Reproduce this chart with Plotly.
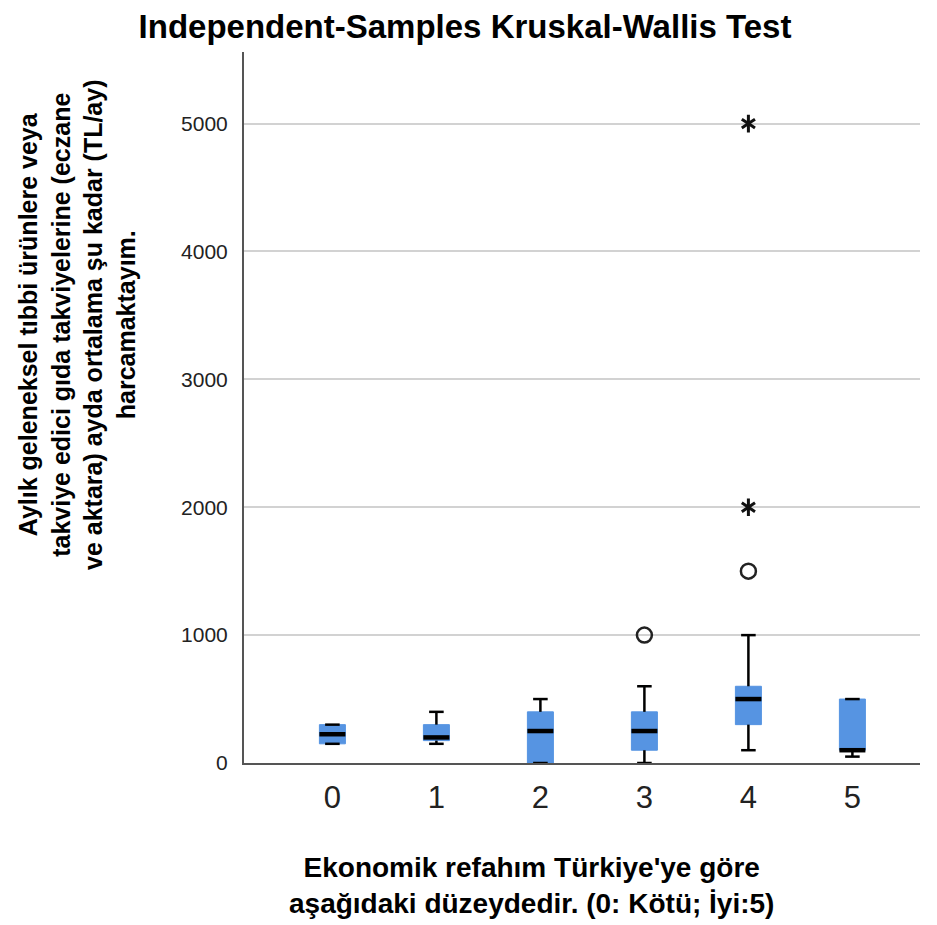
import plotly.graph_objects as go

BLUE = '#5694E2'

categories = [0, 1, 2, 3, 4, 5]
q1 = [150, 175, 0, 100, 300, 100]
medians = [225, 200, 250, 250, 500, 100]
q3 = [300, 300, 400, 400, 600, 500]
lower = [150, 150, 0, 0, 100, 50]
upper = [300, 400, 500, 600, 1000, 500]

# outliers: circles (mild), stars (extreme)
circle_x = [3, 4]
circle_y = [1000, 1500]
star_x = [4, 4]
star_y = [2000, 5000]

y_ticks = [0, 1000, 2000, 3000, 4000, 5000]

BOX_W = 0.25
CAP_W = 0.14

fig = go.Figure()

fig.add_trace(go.Box(x=categories, q1=q1, median=medians, q3=q3,
                     lowerfence=lower, upperfence=upper,
                     width=BOX_W, fillcolor=BLUE,
                     line=dict(color=BLUE, width=1), whiskerwidth=0,
                     boxpoints=False, showlegend=False, hoverinfo='skip'))

# whiskers and caps
wx, wy = [], []
for i, c in enumerate(categories):
    wx += [c, c, None, c, c, None]
    wy += [q3[i], upper[i], None, lower[i], q1[i], None]
    wx += [c - CAP_W / 2, c + CAP_W / 2, None, c - CAP_W / 2, c + CAP_W / 2, None]
    wy += [upper[i], upper[i], None, lower[i], lower[i], None]
fig.add_trace(go.Scatter(x=wx, y=wy, mode='lines', line=dict(color='black', width=2.5),
                         showlegend=False, hoverinfo='skip'))

# medians
mx, my = [], []
for i, c in enumerate(categories):
    mx += [c - BOX_W / 2, c + BOX_W / 2, None]
    my += [medians[i], medians[i], None]
fig.add_trace(go.Scatter(x=mx, y=my, mode='lines', line=dict(color='black', width=4.5),
                         showlegend=False, hoverinfo='skip'))

fig.add_trace(go.Scatter(x=circle_x, y=circle_y, mode='markers',
                         marker=dict(symbol='circle-open', size=15, color='#222',
                                     line=dict(width=2.5)),
                         showlegend=False, hoverinfo='skip'))
# six-armed asterisk = y-up + y-down
for sym in ['y-up-open', 'y-down-open']:
    fig.add_trace(go.Scatter(x=star_x, y=star_y, mode='markers',
                             marker=dict(symbol=sym, size=11, color='#111',
                                         line=dict(width=3, color='#111')),
                             showlegend=False, hoverinfo='skip'))

fig.update_layout(
    width=929, height=917,
    margin=dict(l=236, r=17, t=44, b=162),
    plot_bgcolor='white', paper_bgcolor='white',
    font=dict(family='Liberation Sans, Arial, sans-serif', color='black'),
    title=dict(text='<b>Independent-Samples Kruskal-Wallis Test</b>',
               x=457 / 929, xanchor='center', y=1 - 18 / 917, yanchor='middle',
               font=dict(size=33, color='black')),
    xaxis=dict(range=[-0.85, 5.65], tickvals=categories, ticktext=[str(c) for c in categories],
               showgrid=False, zeroline=False, showline=True, linecolor='#555', linewidth=2,
               ticks='', ticklabelstandoff=6,
               tickfont=dict(size=31, color='#222')),
    yaxis=dict(range=[0, 5560], tickvals=y_ticks,
               showgrid=True, gridcolor='#D2D2D2', gridwidth=2,
               zeroline=False, showline=True, linecolor='#555', linewidth=2,
               ticks='', ticklabelstandoff=10,
               tickfont=dict(size=21, color='#222')),
    annotations=[
        dict(text='<b>Ekonomik refahım Türkiye\'ye göre<br>aşağıdaki düzeydedir. (0: Kötü; İyi:5)</b>',
             xref='paper', yref='paper', x=(531 - 244) / 676, y=(763 - 885) / 711,
             xanchor='center', yanchor='middle', showarrow=False,
             font=dict(size=28, color='black')),
        dict(text='<b>Aylık geleneksel tıbbi ürünlere veya<br>takviye edici gıda takviyelerine (eczane<br>'
                  've aktara) ayda ortalama şu kadar (TL/ay)<br>harcamaktayım.</b>',
             xref='paper', yref='paper', x=(77 - 244) / 676, y=(763 - 325) / 711,
             xanchor='center', yanchor='middle', textangle=-90, showarrow=False,
             font=dict(size=25, color='black')),
    ],
)

fig.write_html("out.html")
